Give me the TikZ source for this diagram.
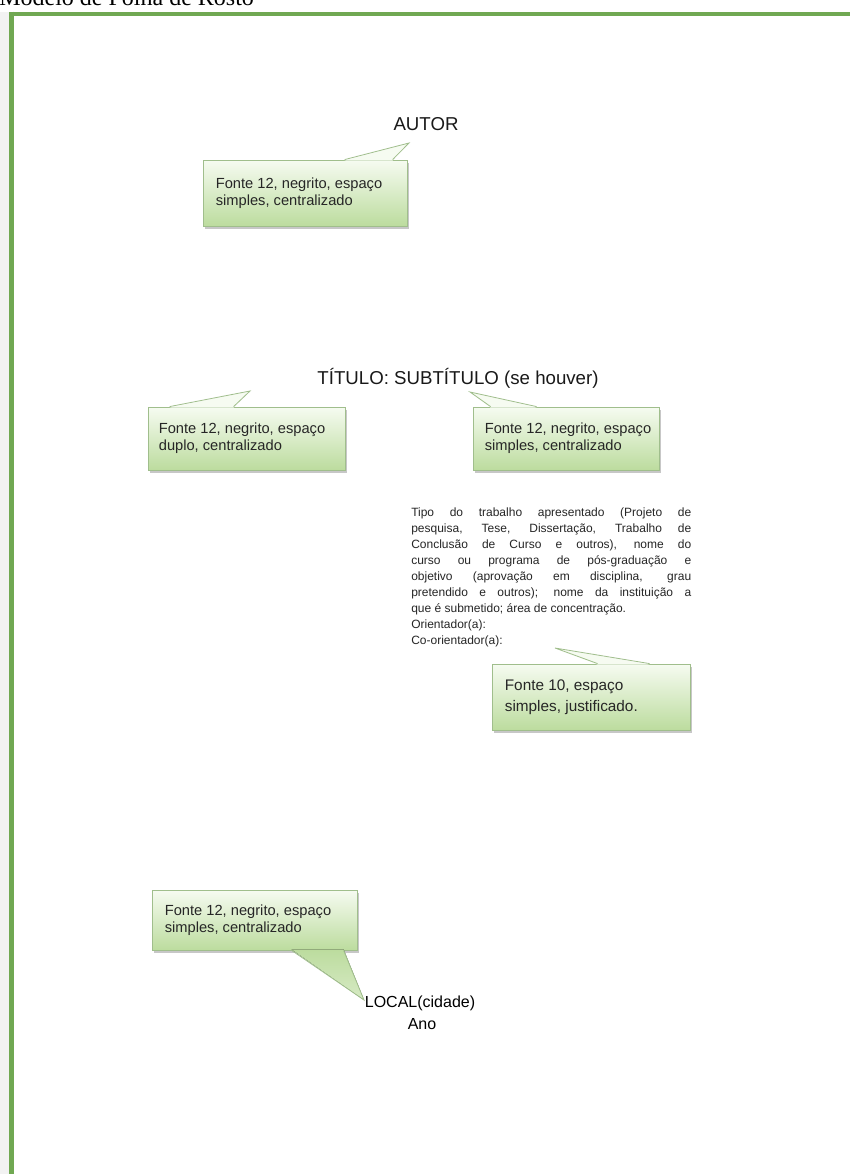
\documentclass[tikz,border=0pt]{standalone}
\usepackage{fontspec}
\setmainfont{Liberation Sans}
\newfontfamily\captionserif{Liberation Serif}
\usetikzlibrary{calc,fit,shadows}
\newdimen\pxu \pxu=0.75pt

\definecolor{framegreen}{RGB}{112,168,82}
\definecolor{boxtop}{RGB}{246,251,241}
\definecolor{boxbottom}{RGB}{188,220,158}
\definecolor{boxedge}{RGB}{160,190,140}

\tikzset{
  callbox/.style={draw=boxedge, line width=0.6pt, top color=boxtop, bottom color=boxbottom,
    inner sep=0pt, drop shadow={shadow xshift=1.5pt, shadow yshift=-2pt, fill=black!40, opacity=0.55}},
  calltext/.style={font=\fontsize{11}{13}\selectfont, align=left, inner sep=0pt, text=black!85},
  tailfill/.style={fill=boxtop},
  tailedge/.style={draw=boxedge, line width=0.6pt},
  heading/.style={font=\fontsize{14}{16}\selectfont, inner sep=0pt, text=black!90},
  para/.style={font=\fontsize{9}{12}\selectfont, text width=210pt, align=justify, inner sep=0pt, text=black!85},
}
% one full-width justified line of the body text
\newcommand{\jline}[1]{\makebox[210pt][s]{#1}}

\begin{document}
\begin{tikzpicture}[x=0.75pt, y=-0.75pt]
\useasboundingbox (0,0) rectangle (850,1174);
\fill[white] (0,0) rectangle (850,1174);
\fill[black!5] (0,12) rectangle (9,1174);

% page caption, partly above the sheet
\node[font=\captionserif\fontsize{18}{20}\selectfont, anchor=base west, inner sep=0pt] (cap) at (-1,6) {Modelo de Folha de Rosto};

% sheet border
\draw[framegreen, line width=4\pxu] (9,13.5) -- (850,13.5);
\draw[framegreen, line width=5\pxu] (11.5,11.5) -- (11.5,1174);

% headings on the sheet
\node[heading] (autor) at (426,124) {AUTOR};
\node[heading] (titulo) at (458,378) {TÍTULO: SUBTÍTULO (se houver)};
\node[font=\fontsize{12}{14}\selectfont, inner sep=0pt] (local) at (420,1003) {LOCAL(cidade)};
\node[font=\fontsize{12}{14}\selectfont, inner sep=0pt] (ano) at (422,1024) {Ano};

% nature of the work
\node[para, anchor=north west] (body) at (411,508) {\spaceskip=0pt\xspaceskip=0pt
\jline{Tipo do trabalho apresentado (Projeto de}\\
\jline{pesquisa, Tese, Dissertação, Trabalho de}\\
\jline{Conclusão de Curso e outros), nome do}\\
\jline{curso ou programa de pós-graduação e}\\
\jline{objetivo (aprovação em disciplina, grau}\\
\jline{pretendido e outros); nome da instituição a}\\
que é submetido; área de concentração.\\
Orientador(a):\\
Co-orientador(a):};

% pointer tips
\coordinate (p1) at (409,143);
\coordinate (p2) at (250,391);
\coordinate (p3) at (470,392);
\coordinate (p4) at (555,648);
\coordinate (p5) at (364,1000);

% callout 1: author
\node[callbox, fit={(203,160) (407,226)}] (c1) {};
\fill[tailfill] ($(c1.north west)+(142,1)$) -- (p1) -- ($(c1.north west)+(190,1)$) -- cycle;
\draw[tailedge] ($(c1.north west)+(142,0)$) -- (p1) -- ($(c1.north west)+(190,0)$);
\node[calltext, anchor=west] (t1) at ($(c1.west)+(13,0)$) {Fonte 12, negrito, espaço\\simples, centralizado};

% callout 2: title
\node[callbox, fit={(148,407) (345,470)}] (c2) {};
\fill[tailfill] ($(c2.north west)+(22,1)$) -- (p2) -- ($(c2.north west)+(86,1)$) -- cycle;
\draw[tailedge] ($(c2.north west)+(22,0)$) -- (p2) -- ($(c2.north west)+(86,0)$);
\node[calltext, anchor=west] (t2) at ($(c2.west)+(11,0)$) {Fonte 12, negrito, espaço\\duplo, centralizado};

% callout 3: subtitle
\node[callbox, fit={(473,407) (659,470)}] (c3) {};
\fill[tailfill] ($(c3.north west)+(18,1)$) -- (p3) -- ($(c3.north west)+(64,1)$) -- cycle;
\draw[tailedge] ($(c3.north west)+(18,0)$) -- (p3) -- ($(c3.north west)+(64,0)$);
\node[calltext, anchor=west] (t3) at ($(c3.west)+(12,0)$) {Fonte 12, negrito, espaço\\simples, centralizado};

% callout 4: body text
\node[callbox, fit={(492,664) (690,730)}] (c4) {};
\fill[tailfill] ($(c4.north west)+(106,1)$) -- (p4) -- ($(c4.north west)+(158,1)$) -- cycle;
\draw[tailedge] ($(c4.north west)+(106,0)$) -- (p4) -- ($(c4.north west)+(158,0)$);
\node[calltext, font=\fontsize{11.5}{15.5}\selectfont, anchor=west] (t4) at ($(c4.west)+(13,0)$) {Fonte 10, espaço\\simples, justificado.};

% callout 5: place and year
\node[callbox, fit={(152,890) (357,950)}] (c5) {};
\fill[top color=boxbottom, bottom color=boxbottom!60!white] ($(c5.south west)+(140,-1)$) -- (p5) -- ($(c5.south west)+(192,-1)$) -- cycle;
\draw[tailedge] ($(c5.south west)+(140,0)$) -- (p5) -- ($(c5.south west)+(192,0)$);
\node[calltext, anchor=west] (t5) at ($(c5.west)+(13,0)$) {Fonte 12, negrito, espaço\\simples, centralizado};
\end{tikzpicture}
\end{document}
